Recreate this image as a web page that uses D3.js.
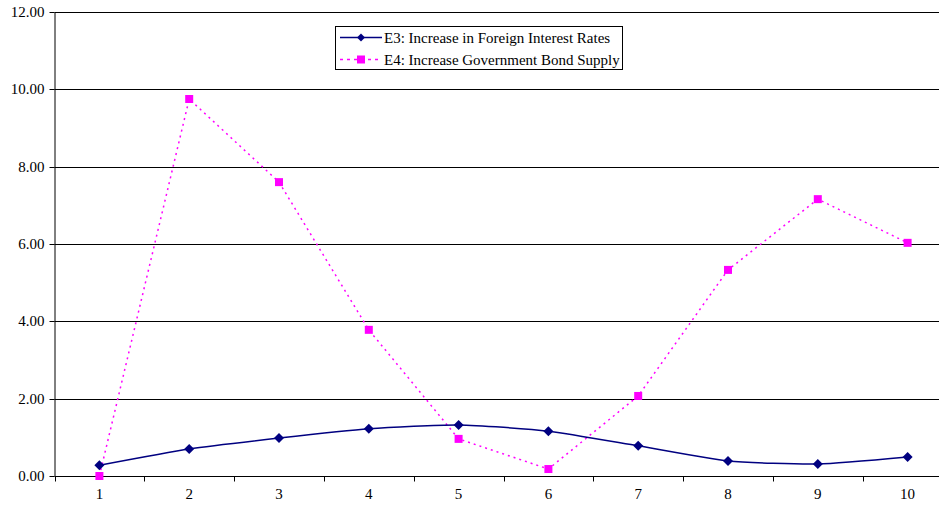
<!DOCTYPE html>
<html><head><meta charset="utf-8">
<script src="https://cdn.jsdelivr.net/npm/d3@7"></script>
<style>body{margin:0;background:#fff}svg{display:block}</style>
</head><body><svg id="c" width="939" height="509"></svg>
<script>
const categories = ["1","2","3","4","5","6","7","8","9","10"];
const e3 = [0.28,0.70,0.98,1.22,1.32,1.16,0.78,0.39,0.31,0.49];
const e4 = [0.00,9.75,7.60,3.78,0.96,0.18,2.07,5.33,7.16,6.03];
const yTicks = [0,2,4,6,8,10,12];
const seriesNames = ["E3: Increase in Foreign Interest Rates","E4: Increase Government Bond Supply"];

const svg = d3.select("#c");
const L = 54.5, R = 952.5, T = 12, B = 476;
const x = d3.scaleBand().domain(categories).range([L, R]);
const y = d3.scaleLinear().domain([0,12]).range([B, T]);
const font = "'Liberation Serif','Times New Roman',serif";

// gridlines
svg.append("g").selectAll("line").data(yTicks.filter(d=>d>0)).join("line")
  .attr("x1", L).attr("x2", 939).attr("y1", d=>Math.round(y(d))+0.5).attr("y2", d=>Math.round(y(d))+0.5)
  .attr("stroke", "#000").attr("stroke-width", 1);

// y axis
const ya = svg.append("g").attr("transform", `translate(${L},0)`)
  .call(d3.axisLeft(y).tickValues(yTicks).tickFormat(d3.format(".2f")).tickSize(5).tickSizeOuter(0));
ya.attr("font-family", font).attr("font-size", 15);
ya.select(".domain").attr("stroke","#000");
ya.selectAll(".tick line").attr("stroke","#000");
ya.selectAll(".tick").attr("transform", d=>`translate(0,${Math.round(y(d))+0.5})`);
ya.selectAll("text").attr("fill","#000").attr("x",-10);

// x axis
const xa = svg.append("g").attr("transform", `translate(0,${B+0.5})`);
xa.append("line").attr("x1", L).attr("x2", 939).attr("stroke","#000");
xa.selectAll("line.tk").data(d3.range(categories.length+1)).join("line").attr("class","tk")
  .attr("x1", i=>Math.round(L + i*x.step())+0.5).attr("x2", i=>Math.round(L + i*x.step())+0.5)
  .attr("y1",0).attr("y2",5).attr("stroke","#000");
xa.selectAll("text").data(categories).join("text")
  .attr("x", d=>x(d)+x.bandwidth()/2).attr("y", 22).attr("text-anchor","middle")
  .attr("font-family", font).attr("font-size", 15).text(d=>d);

const cx = d => x(d)+x.bandwidth()/2;

// E4 dotted
svg.append("path").datum(e4).attr("fill","none").attr("stroke","#FF00FF").attr("stroke-width",1.5)
  .attr("stroke-dasharray","2,4")
  .attr("d", d3.line().x((d,i)=>cx(categories[i])).y(d=>y(d)));
// E3 smoothed
svg.append("path").datum(e3).attr("fill","none").attr("stroke","#000080").attr("stroke-width",1.5)
  .attr("d", d3.line().x((d,i)=>cx(categories[i])).y(d=>y(d)).curve(d3.curveCardinal.tension(0.4)));

svg.append("g").selectAll("rect").data(e4).join("rect")
  .attr("x",(d,i)=>cx(categories[i])-4).attr("y",d=>y(d)-4).attr("width",8).attr("height",8).attr("fill","#FF00FF");
svg.append("g").selectAll("path").data(e3).join("path")
  .attr("transform",(d,i)=>`translate(${cx(categories[i])},${y(d)})`)
  .attr("d","M0,-5L5,0L0,5L-5,0Z").attr("fill","#000080");

// legend
const lg = svg.append("g");
lg.append("rect").attr("x",335.5).attr("y",26.5).attr("width",287).attr("height",43)
  .attr("fill","#fff").attr("stroke","#000").attr("stroke-width",1);
lg.append("line").attr("x1",340).attr("x2",382).attr("y1",37.5).attr("y2",37.5).attr("stroke","#000080").attr("stroke-width",1.5);
lg.append("path").attr("transform","translate(361,37.5)").attr("d","M0,-4L4,0L0,4L-4,0Z").attr("fill","#000080");
lg.append("line").attr("x1",340).attr("x2",382).attr("y1",59.5).attr("y2",59.5).attr("stroke","#FF00FF").attr("stroke-width",1.5).attr("stroke-dasharray","3,4");
lg.append("rect").attr("x",357).attr("y",55.5).attr("width",8).attr("height",8).attr("fill","#FF00FF");
lg.selectAll("text").data(seriesNames).join("text")
  .attr("x",384).attr("y",(d,i)=>43+i*22).attr("font-family",font).attr("font-size",15).text(d=>d);
</script></body></html>
